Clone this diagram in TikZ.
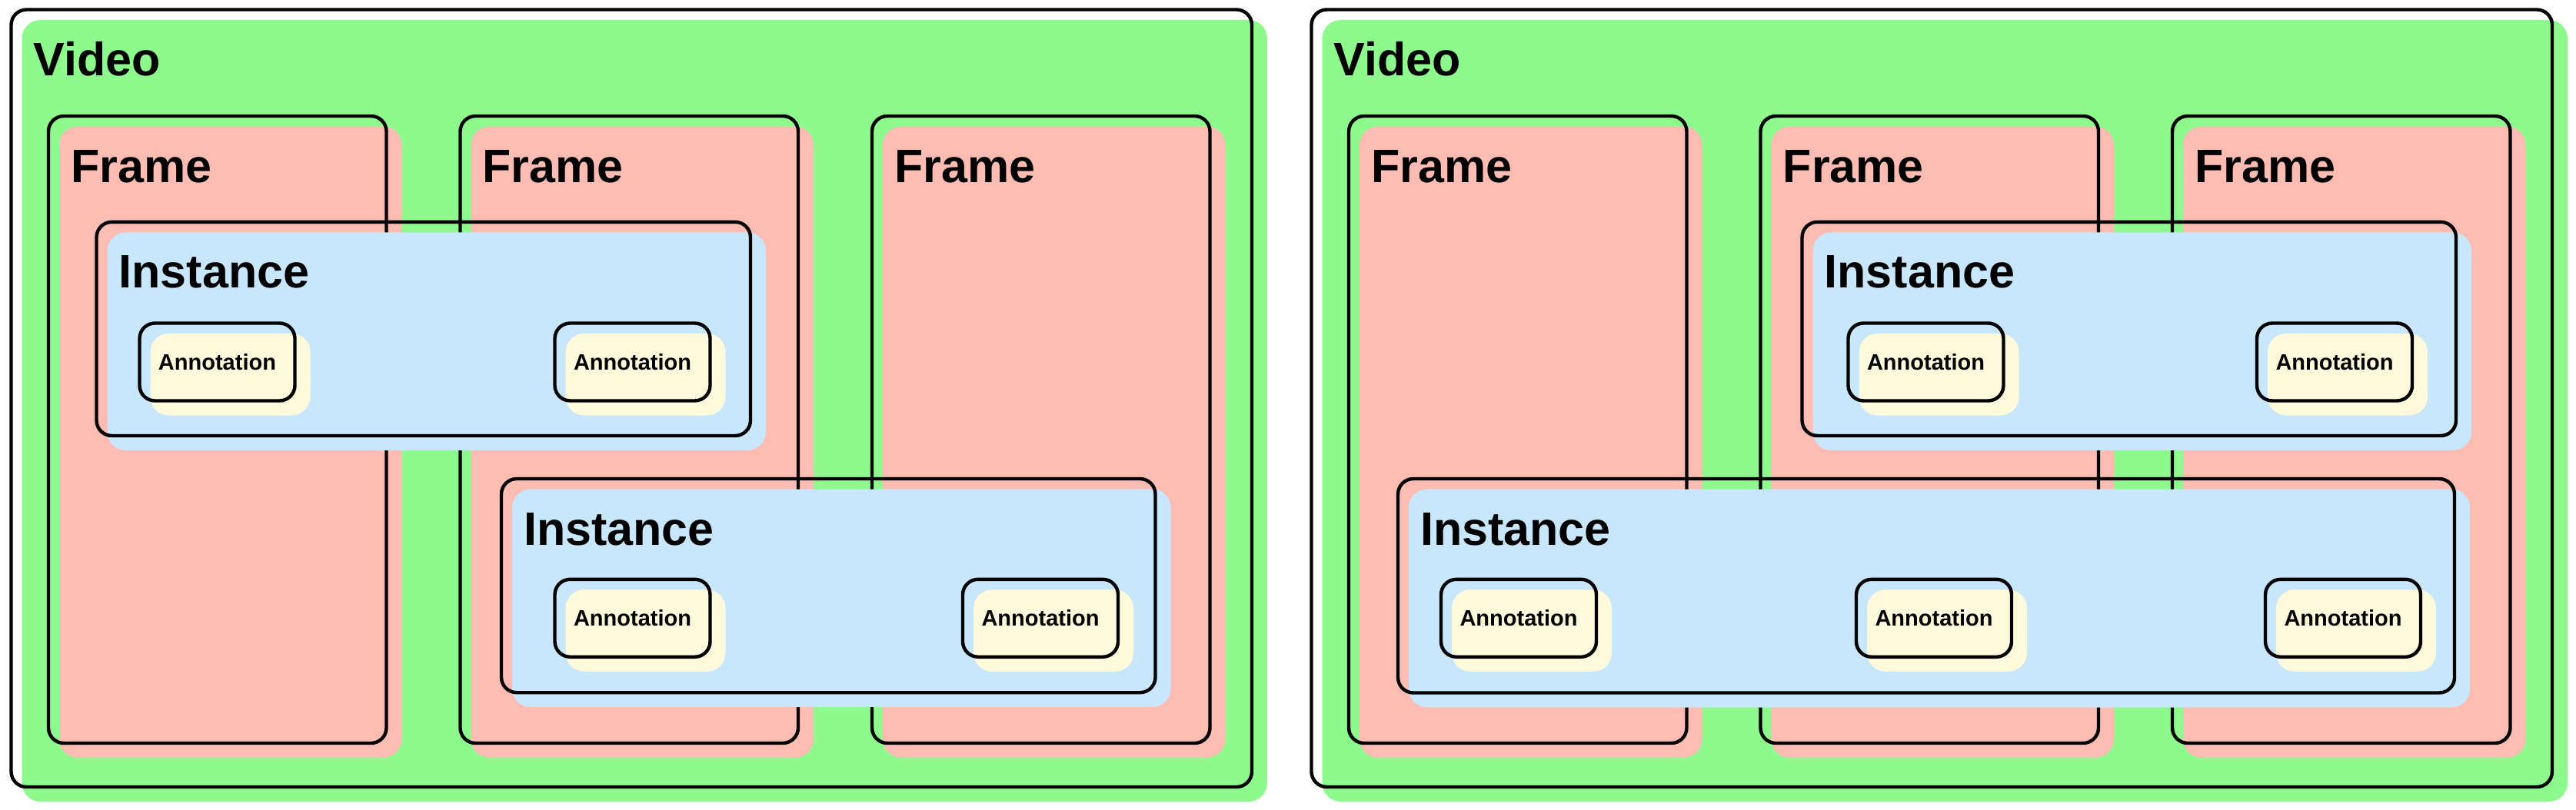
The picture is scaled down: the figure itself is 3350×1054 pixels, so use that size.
\documentclass[tikz,border=0pt]{standalone}
\usepackage{fontspec}
\setmainfont{Liberation Sans}
\definecolor{vidgreen}{RGB}{142,250,142}
\definecolor{framepink}{RGB}{254,188,178}
\definecolor{instblue}{RGB}{200,230,252}
\definecolor{anncream}{RGB}{255,250,220}
\tikzset{
  outl/.style={draw=black, line width=4.4pt, rounded corners=20pt, inner sep=0pt, outer sep=0pt, anchor=north west},
  biglabel/.style={font=\bfseries\fontsize{61}{70}\selectfont, inner sep=0pt, anchor=base west},
  anntext/.style={font=\bfseries\fontsize{29}{34}\selectfont, inner sep=0pt}
}
% name, x, y, w, h, colour
\newcommand\ybox[6]{%
  \fill[#6, rounded corners=24pt] ({#2+14},{#3+13.5}) rectangle ({#2+#4+20},{#3+#5+19});
  \node[outl, minimum width=#4pt, minimum height=#5pt] (#1) at (#2,#3) {};
}
% name, x, y, text
\newcommand\boxlabel[4]{\node[biglabel] (#1) at ({#2+29},{#3+86}) {#4};}
% name, x, y
\newcommand\annbox[3]{%
  \ybox{#1}{#2}{#3}{202}{101}{anncream}
  \node[anntext] (#1t) at (#1.center) {Annotation};
}
\begin{document}
\begin{tikzpicture}[x=1pt,y=-1pt]
\useasboundingbox (0,0) rectangle (3350,1054);
% ---------- left panel ----------
\ybox{v1}{14.5}{12.5}{1613.5}{1011.5}{vidgreen}
\boxlabel{v1l}{14.5}{12.5}{Video}
\ybox{f1}{63}{151}{439.5}{816}{framepink}
\boxlabel{f1l}{63}{151}{Frame}
\ybox{f2}{598.5}{151}{439.5}{816}{framepink}
\boxlabel{f2l}{598.5}{151}{Frame}
\ybox{f3}{1134}{151}{439.5}{816}{framepink}
\boxlabel{f3l}{1134}{151}{Frame}
\ybox{i1}{125.5}{288.8}{850.5}{278.2}{instblue}
\boxlabel{i1l}{125.5}{288.8}{Instance}
\annbox{a1}{181.5}{420.5}
\annbox{a2}{721.5}{420.5}
\ybox{i2}{652}{623}{850.5}{278.2}{instblue}
\boxlabel{i2l}{652}{623}{Instance}
\annbox{a3}{721.5}{753.8}
\annbox{a4}{1252}{753.8}
% ---------- right panel ----------
\ybox{v2}{1705.5}{12.5}{1613.5}{1011.5}{vidgreen}
\boxlabel{v2l}{1705.5}{12.5}{Video}
\ybox{f4}{1754}{151}{439.5}{816}{framepink}
\boxlabel{f4l}{1754}{151}{Frame}
\ybox{f5}{2289.5}{151}{439.5}{816}{framepink}
\boxlabel{f5l}{2289.5}{151}{Frame}
\ybox{f6}{2825}{151}{439.5}{816}{framepink}
\boxlabel{f6l}{2825}{151}{Frame}
\ybox{i3}{2343.5}{288.8}{850.5}{278.2}{instblue}
\boxlabel{i3l}{2343.5}{288.8}{Instance}
\annbox{a5}{2403.5}{420.5}
\annbox{a6}{2935}{420.5}
\ybox{i4}{1818}{623}{1374}{278.5}{instblue}
\boxlabel{i4l}{1818}{623}{Instance}
\annbox{a7}{1874}{753.8}
\annbox{a8}{2414}{753.8}
\annbox{a9}{2946}{753.8}
\end{tikzpicture}
\end{document}
